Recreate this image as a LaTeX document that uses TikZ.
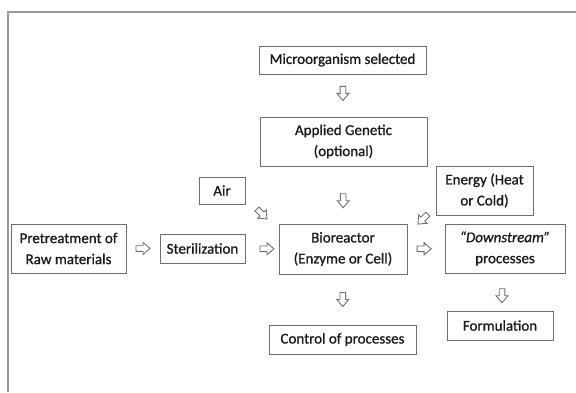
\documentclass[tikz,border=0pt]{standalone}
\usepackage{fontspec}
\setmainfont{Carlito}[BoldFont=Carlito, BoldFeatures={FakeBold=0.9}, BoldItalicFont=Carlito Italic, BoldItalicFeatures={FakeBold=0.9}]
\usetikzlibrary{calc}
\definecolor{boxline}{HTML}{6E6E6E}
\definecolor{txt}{HTML}{1A1A1A}
\definecolor{framec}{HTML}{9A9A9A}
\tikzset{
  stepbox/.style={draw=boxline, line width=1pt, fill=white, text=txt, inner sep=0pt,
    font=\fontsize{15}{21}\selectfont\bfseries, align=center},
  hollow/.style={draw=boxline, line width=0.9pt, fill=white, line join=miter},
  barrow/.pic={\draw[hollow] (-7,-2.8) -- (0,-2.8) -- (0,-6) -- (7,0) -- (0,6) -- (0,2.8) -- (-7,2.8) -- cycle;}
}
\begin{document}
\begin{tikzpicture}[x=1pt,y=-1pt]
\useasboundingbox (0,0) rectangle (576,392);
\fill[white] (0,0) rectangle (576,392);
\draw[framec, line width=1.4pt] (576,12) -- (8,12) -- (8,392);

\node[stepbox, minimum width=167pt, minimum height=28pt] (micro) at (342.5,60) {Microorganism selected};
\node[stepbox, minimum width=167pt, minimum height=49pt] (gen) at (343.5,141.5) {Applied Genetic\\(optional)};
\node[stepbox, minimum width=46pt, minimum height=27pt] (air) at (222,190.5) {Air};
\node[stepbox, minimum width=97pt, minimum height=49pt] (energy) at (484.5,190.5) {Energy (Heat\\or Cold)};
\node[stepbox, minimum width=115pt, minimum height=49pt] (pre) at (68.5,248.5) {Pretreatment of\\Raw materials};
\node[stepbox, minimum width=85pt, minimum height=29pt] (ster) at (202.5,248.5) {Sterilization};
\node[stepbox, minimum width=128pt, minimum height=50pt] (bio) at (343,249) {Bioreactor\\(Enzyme or Cell)};
\node[stepbox, minimum width=120pt, minimum height=49pt] (down) at (505,248.5) {\textit{``Downstream''}\\processes};
\node[stepbox, minimum width=106pt, minimum height=29pt] (form) at (500,325.5) {Formulation};
\node[stepbox, minimum width=147pt, minimum height=29pt] (ctrl) at (342.5,339.5) {Control of processes};

\pic[rotate=-90] at ($(micro.south)!0.45!(gen.north)$) {barrow};
\pic[rotate=-90] at ($(gen.south)!0.6!(bio.north)$) {barrow};
\pic at ($(pre.east)!0.5!(ster.west)$) {barrow};
\pic at ($(ster.east)!0.65!(bio.west)$) {barrow};
\pic at ($(bio.east)!0.45!(down.west)$) {barrow};
\pic[rotate=-90] at ($(bio.south)!0.5!(ctrl.north)$) {barrow};
\pic[rotate=-90] at ($(down.south)!0.6!(form.north)$) {barrow};
\pic[rotate=-45] at ($(air.south east)!0.5!(bio.north west)$) {barrow};
\pic[rotate=-135] at ($(energy.south west)!0.45!(bio.north east)$) {barrow};
\end{tikzpicture}
\end{document}
